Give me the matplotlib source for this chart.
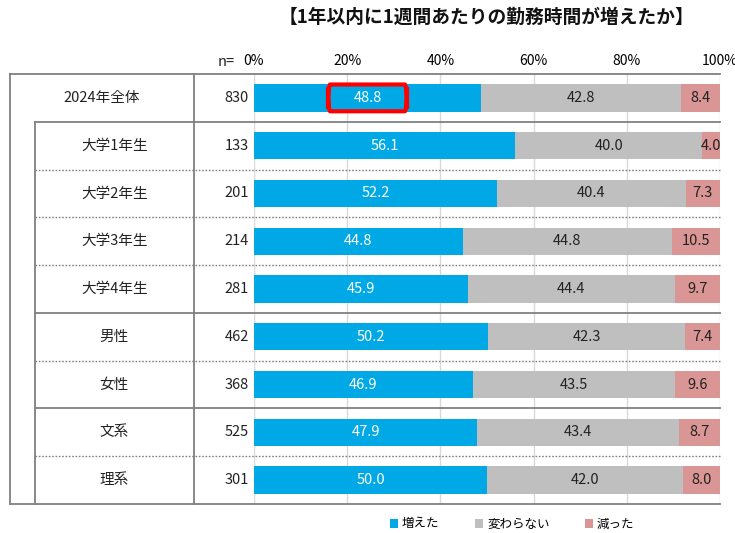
import matplotlib.pyplot as plt
from matplotlib.patches import FancyBboxPatch

plt.rcParams['font.family'] = ['Noto Sans CJK JP', 'DejaVu Sans']

# data
categories = ['2024年全体', '大学1年生', '大学2年生', '大学3年生', '大学4年生',
              '男性', '女性', '文系', '理系']
n_values = [830, 133, 201, 214, 281, 462, 368, 525, 301]
increased = [48.8, 56.1, 52.2, 44.8, 45.9, 50.2, 46.9, 47.9, 50.0]
unchanged = [42.8, 40.0, 40.4, 44.8, 44.4, 42.3, 43.5, 43.4, 42.0]
decreased = [8.4, 4.0, 7.3, 10.5, 9.7, 7.4, 9.6, 8.7, 8.0]
series_names = ['増えた', '変わらない', '減った']
tick_labels = ['0%', '20%', '40%', '60%', '80%', '100%']
title = '【1年以内に1週間あたりの勤務時間が増えたか】'

colors = ['#00A9E6', '#BFBFBF', '#D99694']
text_colors = ['white', '#222222', '#222222']
line_col = '#808080'

fig = plt.figure(figsize=(7.35, 5.33), dpi=100)
W, H = 735, 533
# axes from x=254..720 px, y=74..504 px
ax = fig.add_axes([254 / W, 1 - 504 / H, (720 - 254) / W, (504 - 74) / H])

rows = list(range(len(categories)))
ax.set_xlim(0, 100)
ax.set_ylim(len(categories) - 0.5, -0.5)

left = [0] * len(categories)
for vals, col, tc, name in zip([increased, unchanged, decreased], colors, text_colors, series_names):
    ax.barh(rows, vals, left=left, height=0.57, color=col, label=name, zorder=3)
    for r, v, l in zip(rows, vals, left):
        ax.text(l + v / 2, r, f'{v:.1f}', ha='center', va='center', color=tc,
                fontsize=10.5, zorder=5, clip_on=False)
    left = [a + b for a, b in zip(left, vals)]

# grid
for x in [0, 20, 40, 60, 80, 100]:
    ax.axvline(x, color='#D9D9D9', lw=1, zorder=1)
ax.set_xticks([0, 20, 40, 60, 80, 100])
ax.set_xticklabels(tick_labels, fontsize=10)
ax.xaxis.tick_top()
ax.tick_params(axis='x', length=0, pad=4)
ax.set_yticks([])
for s in ax.spines.values():
    s.set_visible(False)

# table frame (data units, px -> data)
def px(x):
    return (x - 254) / (720 - 254) * 100

x_outer, x_inner, x_col = px(9.5), px(34.5), px(194)
kw = dict(color=line_col, lw=1.3, clip_on=False, zorder=2)
ax.plot([x_outer, 100], [-0.5, -0.5], **kw)
ax.plot([x_outer, 100], [8.5, 8.5], **kw)
ax.plot([x_outer, x_outer], [-0.5, 8.5], **kw)
ax.plot([x_inner, x_inner], [0.5, 8.5], **kw)
ax.plot([x_col, x_col], [-0.5, 8.5], **kw)
for y in [0.5, 4.5, 6.5]:
    ax.plot([x_inner, 100], [y, y], **kw)
for y in [1.5, 2.5, 3.5, 5.5, 7.5]:
    ax.plot([x_inner, 100], [y, y], color=line_col, lw=1, ls=(0, (1.2, 1.2)),
            clip_on=False, zorder=2)

# row labels and n
for r, cat, n in zip(rows, categories, n_values):
    cx = (x_outer + x_col) / 2 if r == 0 else (x_inner + x_col) / 2
    ax.text(cx, r, cat, ha='center', va='center', fontsize=10.5, color='#222222')
    ax.text(px(249), r, str(n), ha='right', va='center', fontsize=10.5, color='#222222')
ax.text(px(235), -0.6, 'n=', ha='right', va='bottom', fontsize=10.5, color='#222222')

# highlight box
box = FancyBboxPatch((px(328), -0.28), px(407) - px(328), 0.56,
                     boxstyle='round,pad=0,rounding_size=0.5', fill=False,
                     edgecolor='#FF0000', lw=3, zorder=6, clip_on=False)
ax.add_patch(box)

fig.text(486 / W, 1 - 17 / H, title, ha='center', va='center', fontsize=13.5,
         fontweight='bold', color='#111111')

fig.legend(loc='center', bbox_to_anchor=(512 / W, 1 - 524 / H), ncol=3, frameon=False,
           fontsize=9, handlelength=0.7, handleheight=0.7, handletextpad=0.3,
           columnspacing=2.8)

fig.savefig('out.png', dpi=100)
